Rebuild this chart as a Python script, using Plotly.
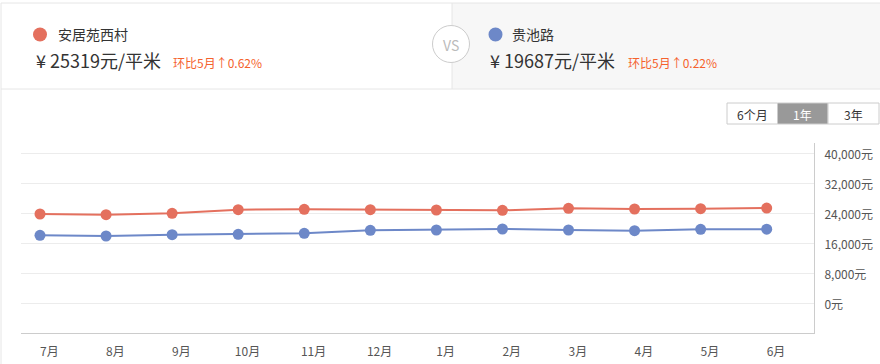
import plotly.graph_objects as go

months = ["7月", "8月", "9月", "10月", "11月", "12月", "1月", "2月", "3月", "4月", "5月", "6月"]
anjuyuan = [23730, 23560, 23910, 24890, 24980, 24890, 24800, 24710, 25240, 25070, 25163, 25319]
guichilu = [18040, 17870, 18220, 18310, 18580, 19380, 19470, 19730, 19470, 19290, 19644, 19687]
y_ticks = [0, 8000, 16000, 24000, 32000, 40000]
y_tick_text = ["0元", "8,000元", "16,000元", "24,000元", "32,000元", "40,000元"]
names = ["安居苑西村", "贵池路"]
prices = ["¥ 25319元/平米", "¥ 19687元/平米"]
changes = ["环比5月↑0.62%", "环比5月↑0.22%"]
buttons = ["6个月", "1年", "3年"]

RED = "#e4705e"
BLUE = "#6d88c8"
FONT = "Noto Sans CJK SC, Microsoft YaHei, sans-serif"
W, H = 880, 364

def px(x):
    return x / W

def py(y):
    return 1 - y / H

xs = list(range(len(months)))

fig = go.Figure()
for vals, col in [(anjuyuan, RED), (guichilu, BLUE)]:
    fig.add_trace(go.Scatter(
        x=xs, y=vals, mode="lines+markers",
        line=dict(color=col, width=2),
        marker=dict(color=col, size=11),
        hoverinfo="skip",
    ))

shapes = []
# header panels
shapes.append(dict(type="rect", xref="paper", yref="paper", x0=px(452), x1=px(880), y0=py(89), y1=py(3),
                   fillcolor="#f7f7f7", line=dict(width=0), layer="below"))
for (x0, y0, x1, y1) in [(1, 3, 880, 3), (1, 89, 880, 89), (1, 3, 1, 364), (452, 3, 452, 89)]:
    shapes.append(dict(type="line", xref="paper", yref="paper", x0=px(x0), x1=px(x1), y0=py(y0), y1=py(y1),
                       line=dict(color="#e6e6e6", width=1), layer="below"))
# VS circle
shapes.append(dict(type="circle", xref="paper", yref="paper", x0=px(451 - 18.5), x1=px(451 + 18.5),
                   y0=py(44 + 18.5), y1=py(44 - 18.5), fillcolor="white", line=dict(color="#cccccc", width=1)))
# legend dots
for cx, col in [(40, RED), (495.5, BLUE)]:
    shapes.append(dict(type="circle", xref="paper", yref="paper", x0=px(cx - 7), x1=px(cx + 7),
                       y0=py(34.5 + 7), y1=py(34.5 - 7), fillcolor=col, line=dict(width=0)))
# buttons
btn_x = [727, 777.5, 828, 879]
for i, b in enumerate(buttons):
    shapes.append(dict(type="rect", xref="paper", yref="paper", x0=px(btn_x[i]), x1=px(btn_x[i + 1]),
                       y0=py(124), y1=py(103), fillcolor="#999999" if i == 1 else "white",
                       line=dict(color="#cccccc", width=1)))

annotations = []
def txt(x, y, s, size, color, anchor="left"):
    annotations.append(dict(x=px(x), y=py(y), xref="paper", yref="paper", text=s, showarrow=False,
                            xanchor=anchor, yanchor="middle", font=dict(family=FONT, size=size, color=color),
                            borderpad=0))

txt(57, 33.5, names[0], 14, "#333333")
txt(35, 60, prices[0], 18, "#333333")
txt(172, 62, changes[0], 12, "#f5622d")
txt(511, 33.5, names[1], 14, "#333333")
txt(489, 60, prices[1], 18, "#333333")
txt(627, 62, changes[1], 12, "#f5622d")
txt(451, 45, "VS", 14, "#bbbbbb", anchor="center")
for i, b in enumerate(buttons):
    txt((btn_x[i] + btn_x[i + 1]) / 2, 114, b, 12, "white" if i == 1 else "#333333", anchor="center")

step = (766.7 - 40) / 11
fig.update_layout(
    width=W, height=H, autosize=False,
    margin=dict(l=0, r=0, t=0, b=0),
    paper_bgcolor="white", plot_bgcolor="white",
    showlegend=False,
    shapes=shapes, annotations=annotations,
    xaxis=dict(
        domain=[21 / W, 814 / W],
        range=[(21 - 40) / step, (814 - 40) / step],
        tickvals=[i + 9.3 / step for i in xs], ticktext=months,
        showgrid=False, zeroline=False,
        showline=True, linecolor="#cccccc", linewidth=1,
        ticks="", ticklabelstandoff=8,
        tickfont=dict(family=FONT, size=12, color="#555555"),
        fixedrange=True,
    ),
    yaxis=dict(
        domain=[(H - 333) / H, (H - 143) / H],
        range=[-8000, 40000 + 10 / 30 * 8000],
        side="right",
        tickvals=y_ticks, ticktext=y_tick_text,
        showgrid=True, gridcolor="#ececec", gridwidth=1,
        zeroline=False,
        showline=True, linecolor="#cccccc", linewidth=1,
        ticks="", ticklabelstandoff=7, ticklabelshift=2,
        tickfont=dict(family=FONT, size=12, color="#555555"),
        fixedrange=True,
    ),
)

fig.write_html("out.html", config={"displayModeBar": False},
               post_script="document.body.style.margin='0';document.body.style.overflow='hidden';")
